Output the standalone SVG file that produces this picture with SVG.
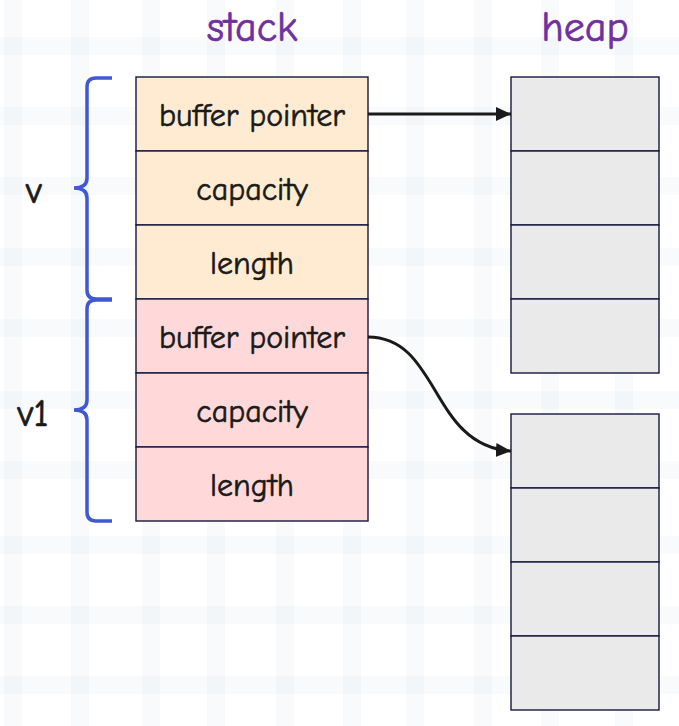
<svg xmlns="http://www.w3.org/2000/svg" width="679" height="726" viewBox="0 0 679 726">
  <defs>
    <style>
      .grid line { stroke: #eaf0f4; stroke-opacity: 0.32; stroke-width: 18; }
      .cell { stroke: #14173f; stroke-width: 1.4; }
      .stackA { fill: #ffebd2; }
      .stackB { fill: #ffd9d9; }
      .heapc { fill: #eaeaea; }
      .lbl { font-family: "Comic Sans MS", "Comic Neue", "DejaVu Sans", sans-serif; font-size: 32px; fill: #1a1a1a; stroke: #1a1a1a; stroke-width: 0.6; text-anchor: middle; }
      .title { font-family: "Comic Sans MS", "Comic Neue", "DejaVu Sans", sans-serif; font-size: 42px; fill: #7030a0; stroke: #7030a0; stroke-width: 0.7; text-anchor: middle; }
      .var { font-family: "Comic Sans MS", "Comic Neue", "DejaVu Sans", sans-serif; font-size: 38px; fill: #1a1a1a; stroke: #1a1a1a; stroke-width: 0.7; text-anchor: middle; }
      .brace { fill: none; stroke: #4159d0; stroke-width: 3.5; stroke-linecap: butt; }
      .conn { fill: none; stroke: #1a1a1a; stroke-width: 3; }
    </style>
    <marker id="arrow" markerUnits="userSpaceOnUse" markerWidth="16" markerHeight="16" refX="15" refY="7" orient="auto">
      <path d="M0,0 L15,7 L0,14 z" fill="#1a1a1a"/>
    </marker>
  </defs>
  <rect width="679" height="726" fill="#ffffff"/>
  <g class="grid">
    <line x1="0" y1="46" x2="679" y2="46"/>
    <line x1="0" y1="116" x2="679" y2="116"/>
    <line x1="0" y1="186" x2="679" y2="186"/>
    <line x1="0" y1="257" x2="679" y2="257"/>
    <line x1="0" y1="328" x2="679" y2="328"/>
    <line x1="0" y1="400" x2="679" y2="400"/>
    <line x1="0" y1="470" x2="679" y2="470"/>
    <line x1="0" y1="545" x2="679" y2="545"/>
    <line x1="0" y1="615" x2="679" y2="615"/>
    <line x1="0" y1="685" x2="679" y2="685"/>
    <line x1="13" y1="0" x2="13" y2="726"/>
    <line x1="80" y1="0" x2="80" y2="726"/>
    <line x1="151" y1="0" x2="151" y2="726"/>
    <line x1="216" y1="0" x2="216" y2="726"/>
    <line x1="285" y1="0" x2="285" y2="726"/>
    <line x1="352" y1="0" x2="352" y2="726"/>
    <line x1="415" y1="0" x2="415" y2="726"/>
    <line x1="483" y1="0" x2="483" y2="726"/>
    <line x1="550" y1="0" x2="550" y2="726"/>
    <line x1="624" y1="0" x2="624" y2="726"/>
  </g>

  <g id="title-stack"><text class="title" x="252" y="41">stack</text></g>
  <g id="title-heap"><text class="title" x="585" y="41">heap</text></g>

  <g id="label-v">
    <path class="brace" d="M112,78 H96 Q87,78 87,87 V178 Q87,188 74,188 Q87,188 87,198 V290 Q87,299 96,299 H112"/>
    <text class="var" x="34" y="203">v</text>
  </g>
  <g id="label-v1">
    <path class="brace" d="M112,300 H96 Q87,300 87,309 V400 Q87,410 74,410 Q87,410 87,420 V512 Q87,521 96,521 H112"/>
    <text class="var" x="33" y="426">v1</text>
  </g>

  <g id="v-buffer-pointer"><rect class="cell stackA" x="136" y="77" width="232" height="74"/><text class="lbl" x="252" y="126">buffer pointer</text></g>
  <g id="v-capacity"><rect class="cell stackA" x="136" y="151" width="232" height="74"/><text class="lbl" x="252" y="200">capacity</text></g>
  <g id="v-length"><rect class="cell stackA" x="136" y="225" width="232" height="74"/><text class="lbl" x="252" y="274">length</text></g>
  <g id="v1-buffer-pointer"><rect class="cell stackB" x="136" y="299" width="232" height="74"/><text class="lbl" x="252" y="348">buffer pointer</text></g>
  <g id="v1-capacity"><rect class="cell stackB" x="136" y="373" width="232" height="74"/><text class="lbl" x="252" y="422">capacity</text></g>
  <g id="v1-length"><rect class="cell stackB" x="136" y="447" width="232" height="74"/><text class="lbl" x="252" y="496">length</text></g>

  <g id="heap1">
    <rect class="cell heapc" x="511" y="77" width="148" height="74"/>
    <rect class="cell heapc" x="511" y="151" width="148" height="74"/>
    <rect class="cell heapc" x="511" y="225" width="148" height="74"/>
    <rect class="cell heapc" x="511" y="299" width="148" height="74"/>
  </g>
  <g id="heap2">
    <rect class="cell heapc" x="511" y="414" width="148" height="74"/>
    <rect class="cell heapc" x="511" y="488" width="148" height="74"/>
    <rect class="cell heapc" x="511" y="562" width="148" height="74"/>
    <rect class="cell heapc" x="511" y="636" width="148" height="74"/>
  </g>

  <g id="connectors">
    <path class="conn" d="M368,114 H511" marker-end="url(#arrow)"/>
    <path class="conn" d="M368,337 C440,337 430,446 511,451" marker-end="url(#arrow)"/>
  </g>
</svg>
